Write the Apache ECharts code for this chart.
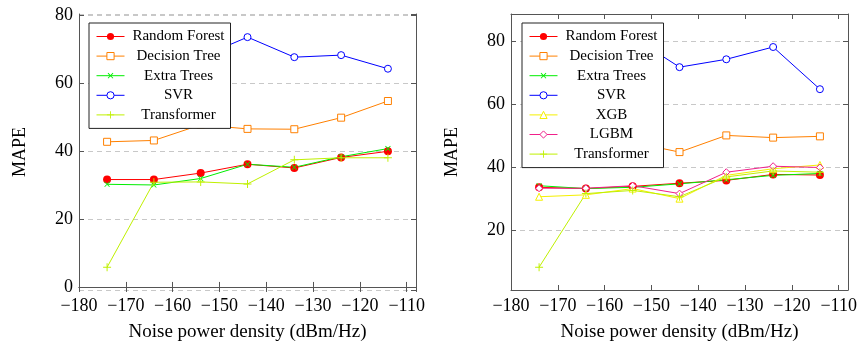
<!DOCTYPE html>
<html>
<head>
<meta charset="utf-8">
<script src="https://cdn.jsdelivr.net/npm/echarts@6/dist/echarts.min.js"></script>
<style>
html,body{margin:0;padding:0;background:#fff;}
#chart{width:860px;height:347px;}
</style>
</head>
<body>
<div id="chart"></div>
<script>
// x categories (noise power density, dBm/Hz)
var noise = [-174, -164, -154, -144, -134, -124, -114];

// Left panel
var leftRF   = [31.6, 31.6, 33.5, 36.1, 35.0, 38.1, 39.9];
var leftDT   = [42.7, 43.1, 47.7, 46.5, 46.4, 49.8, 54.7];
var leftET   = [30.2, 30.0, 31.9, 36.1, 35.2, 38.3, 40.7];
var leftSVR  = [71.0, 72.0, 67.6, 73.5, 67.6, 68.2, 64.2];
var leftTF   = [5.8, 30.8, 30.9, 30.3, 37.4, 38.0, 38.0];

// Right panel
var rightRF   = [33.5, 33.1, 33.8, 34.8, 35.7, 37.6, 37.4];
var rightDT   = [46.5, 46.0, 47.8, 44.7, 50.0, 49.3, 49.7];
var rightET   = [34.0, 33.1, 33.5, 34.6, 35.9, 37.3, 37.9];
var rightSVR  = [79.0, 80.0, 81.3, 71.7, 74.2, 78.1, 64.7];
var rightXGB  = [30.5, 31.1, 33.1, 29.9, 37.3, 39.4, 40.6];
var rightLGBM = [33.2, 33.2, 34.0, 31.5, 38.3, 40.2, 39.8];
var rightTF   = [8.1, 31.5, 32.5, 30.5, 36.8, 38.7, 38.3];

var xTicks = [-180, -170, -160, -150, -140, -130, -120, -110];
var yTicks = [0, 20, 40, 60, 80];

var FONT = 'Liberation Serif';
var AX = '#555';
var PLUS = 'path://M4.4,0H5.6V10H4.4ZM0,4.4H10V5.6H0Z';

function pair(xs, ys){ return xs.map(function(x,i){ return [x, ys[i]]; }); }
function fmtX(v){ if (xTicks.indexOf(v) < 0) return ''; return v < 0 ? '\u2212' + Math.abs(v) : String(v); }
function fmtY(v){ if (yTicks.indexOf(Math.round(v*1000)/1000) < 0) return ''; return String(v); }

var styles = {
  'Random Forest': {color:'#ff0000', symbol:'circle', size:8, rotate:0, hollow:false},
  'Decision Tree': {color:'#ff8000', symbol:'rect', size:7, rotate:0, hollow:true},
  'Extra Trees':   {color:'#00ee00', symbol:PLUS, size:7, rotate:45, hollow:false},
  'SVR':           {color:'#0000ff', symbol:'circle', size:7, rotate:0, hollow:true},
  'XGB':           {color:'#f5f000', symbol:'triangle', size:7, rotate:0, hollow:true},
  'LGBM':          {color:'#f0208a', symbol:'diamond', size:7, rotate:0, hollow:true},
  'Transformer':   {color:'#bff000', symbol:PLUS, size:8, rotate:0, hollow:false}
};

function mkSeries(name, data, idx){
  var s = styles[name];
  return {
    name: name, type: 'line', xAxisIndex: idx*2, yAxisIndex: idx*2,
    data: pair(noise, data),
    symbol: s.symbol, symbolSize: s.size, symbolRotate: s.rotate,
    showAllSymbol: true,
    lineStyle: {color: s.color, width: 1},
    itemStyle: s.hollow ? {color: '#fff', borderColor: s.color, borderWidth: 1}
                        : {color: s.color, borderWidth: 0},
    emphasis: {disabled: true},
    animation: false
  };
}

function xAxes(gi){
  return [{
    type:'value', gridIndex:gi, position:'bottom', min:-180, max:-108, interval:10,
    axisLine:{show:true, lineStyle:{color:AX, width:1}},
    axisTick:{show:true, inside:true, length:5, lineStyle:{color:AX}},
    axisLabel:{show:true, margin:7, color:'#000', fontFamily:FONT, fontSize:18, formatter:fmtX},
    splitLine:{show:false},
    name:'Noise power density (dBm/Hz)', nameLocation:'middle', nameGap:33,
    nameTextStyle:{color:'#000', fontFamily:FONT, fontSize:19}
  },{
    type:'value', gridIndex:gi, position:'top', min:-180, max:-108, interval:10,
    axisLine:{show:true, lineStyle:{color:AX, width:1}},
    axisTick:{show:true, inside:true, length:5, lineStyle:{color:AX}},
    axisLabel:{show:false}, splitLine:{show:false}
  }];
}
function yAxes(gi, mn, mx){
  return [{
    type:'value', gridIndex:gi, position:'left', min:mn, max:mx, splitNumber:4,
    axisLine:{show:true, lineStyle:{color:AX, width:1}},
    axisTick:{show:true, inside:true, length:5, lineStyle:{color:AX}},
    axisLabel:{show:true, margin:6, color:'#000', fontFamily:FONT, fontSize:18, formatter:fmtY,
      showMinLabel:false, showMaxLabel:false},
    splitLine:{show:true, lineStyle:{color:'#c8c8c8', width:1, type:[5,4]}},
    name:'MAPE', nameLocation:'middle', nameGap:50,
    nameTextStyle:{color:'#000', fontFamily:FONT, fontSize:18}
  },{
    type:'value', gridIndex:gi, position:'right', min:mn, max:mx, splitNumber:4,
    axisLine:{show:true, lineStyle:{color:AX, width:1}},
    axisTick:{show:true, inside:true, length:5, lineStyle:{color:AX}},
    axisLabel:{show:false}, splitLine:{show:false}
  }];
}

function mkLegend(names, left){
  return {
    orient:'vertical', left:left, top:23,
    data: names,
    itemWidth:28, itemHeight:9, itemGap:4.6,
    padding:[6,3,6,7],
    backgroundColor:'#fff', borderColor:'#222', borderWidth:1,
    selectedMode:false,
    itemStyle:{borderWidth:1},
    lineStyle:{width:1},
    formatter: function(n){ return '{a|' + n + '}'; },
    textStyle: {fontFamily:FONT, fontSize:15, color:'#000', lineHeight:14,
      rich:{a:{width:98, align:'center', fontFamily:FONT, fontSize:15, lineHeight:14, color:'#000'}}}
  };
}

var leftNames = ['Random Forest','Decision Tree','Extra Trees','SVR','Transformer'];
var rightNames = ['Random Forest','Decision Tree','Extra Trees','SVR','XGB','LGBM','Transformer'];

var option = {
  animation:false,
  backgroundColor:'#fff',
  grid:[
    {left:79, top:14, width:337, height:279},
    {left:511, top:14, width:337, height:279}
  ],
  xAxis: xAxes(0).concat(xAxes(1)),
  yAxis: yAxes(0, -0.9, 80.3).concat(yAxes(1, 0.85, 88.6)),
  legend:[mkLegend(leftNames, 89), mkLegend(rightNames, 522)],
  series:[
    mkSeries('Random Forest', leftRF, 0),
    mkSeries('Decision Tree', leftDT, 0),
    mkSeries('Extra Trees', leftET, 0),
    mkSeries('SVR', leftSVR, 0),
    mkSeries('Transformer', leftTF, 0),
    mkSeries('Random Forest', rightRF, 1),
    mkSeries('Decision Tree', rightDT, 1),
    mkSeries('Extra Trees', rightET, 1),
    mkSeries('SVR', rightSVR, 1),
    mkSeries('XGB', rightXGB, 1),
    mkSeries('LGBM', rightLGBM, 1),
    mkSeries('Transformer', rightTF, 1)
  ]
};

var chart = echarts.init(document.getElementById('chart'), null, {renderer:'canvas'});
chart.setOption(option);
</script>
</body>
</html>
